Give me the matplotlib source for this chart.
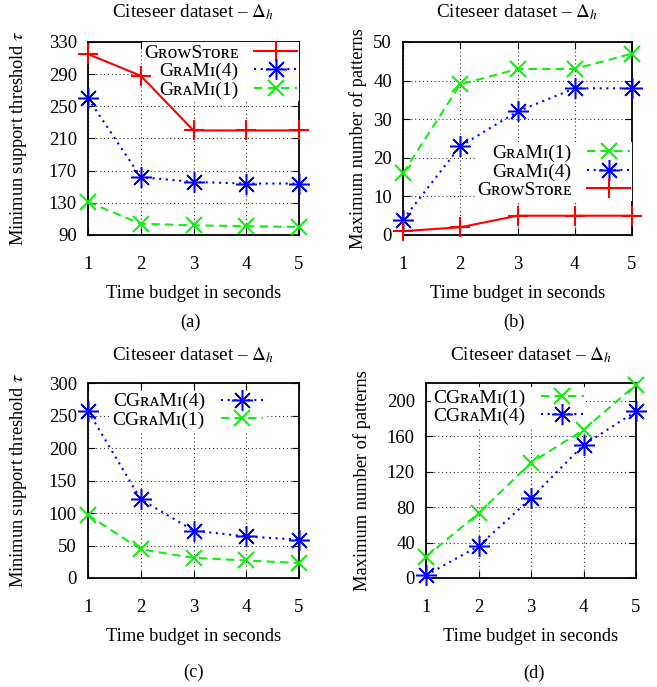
import matplotlib
matplotlib.use('Agg')
import matplotlib.pyplot as plt

TIME = [1, 2, 3, 4, 5]

# (a) minimum support threshold
GROWSTORE_TAU = [315, 288, 220, 220, 220]
GRAMI4_TAU = [260, 162, 156, 154, 154]
GRAMI1_TAU = [131, 104, 102, 101, 100]

# (b) maximum number of patterns
GRAMI1_PAT = [16, 39, 43, 43, 47]
GRAMI4_PAT = [4, 23, 32, 38, 38]
GROWSTORE_PAT = [1, 2, 5, 5, 5]

# (c) minimum support threshold, CGraMi
CGRAMI4_TAU = [257, 121, 73, 64, 59]
CGRAMI1_TAU = [97, 44, 31, 27, 23]

# (d) maximum number of patterns, CGraMi
CGRAMI1_PAT = [24, 73, 130, 167, 218]
CGRAMI4_PAT = [3, 36, 90, 150, 188]

plt.rcParams['font.family'] = ['Liberation Serif', 'DejaVu Serif']
plt.rcParams['mathtext.fontset'] = 'stix'

RED, BLUE, GREEN = '#ff0000', '#0000ff', '#11ee11'
STYLES = {
    'growstore': dict(color=RED, ls='-', marker='+', ms=14, mew=1.5),
    'grami4': dict(color=BLUE, ls=(0, (1, 2.2)), marker=(8, 2, 0), ms=15, mew=1.1),
    'grami1': dict(color=GREEN, ls=(0, (4, 2.5)), marker='x', ms=11, mew=1.5),
}
FS = 13.2
TICK_FS = 13.5
TITLE_FS = 13.8
LEG_FS = 14
TITLE = r'Citeseer dataset – $\Delta_h$'
XLABEL = 'Time budget in seconds'

W, H = 657, 687
fig = plt.figure(figsize=(W / 100, H / 100), dpi=100)


def add_axes(left, right, top, bottom):
    return fig.add_axes([left / W, 1 - bottom / H, (right - left) / W, (bottom - top) / H])


def panel(ax, series, ylim, yticks, ylabel, ylab_x, xlab_y, title_y, leg_anchor):
    for label, vals, key in series:
        st = STYLES[key]
        ax.plot(TIME, vals, color=st['color'], ls=st['ls'], lw=1.5, marker=st['marker'],
                ms=st['ms'], mew=st['mew'], label=label, clip_on=False, zorder=3)
    ax.set_xlim(1, 5)
    ax.set_ylim(*ylim)
    ax.set_xticks(TIME)
    ax.set_yticks(yticks)
    ax.grid(True, color='0.2', ls=(0, (1, 2.5)), lw=0.8)
    ax.tick_params(direction='in', top=True, right=True, length=5, labelsize=TICK_FS)
    ax.tick_params(axis='x', pad=15)
    ax.tick_params(axis='y', pad=8)
    for s in ax.spines.values():
        s.set_linewidth(1.3)
    ax.set_ylabel(ylabel, fontsize=FS)
    ax.yaxis.set_label_coords(ylab_x, 0.5)
    ax.set_xlabel(XLABEL, fontsize=FS)
    ax.xaxis.set_label_coords(0.5, xlab_y)
    ax.text(0.5, title_y, TITLE, transform=ax.transAxes, ha='center', va='center',
            fontsize=TITLE_FS)
    leg = ax.legend(loc='upper right', bbox_to_anchor=leg_anchor, markerfirst=False,
                    fontsize=LEG_FS, handlelength=2.2, handletextpad=0.8, labelspacing=0.05,
                    borderpad=0.1, borderaxespad=0, frameon=True, fancybox=False,
                    edgecolor='none', facecolor='white', framealpha=1)
    # key box hides the grid but stays under the data lines
    leg.set_zorder(2.5)


ax_a = add_axes(88, 299, 42, 235)
panel(ax_a, [('GʀᴏᴡSᴛᴏʀᴇ', GROWSTORE_TAU, 'growstore'),
             ('GʀᴀMɪ(4)', GRAMI4_TAU, 'grami4'),
             ('GʀᴀMɪ(1)', GRAMI1_TAU, 'grami1')],
      (90, 330), [90, 130, 170, 210, 250, 290, 330], r'Minimun support threshold $\tau$',
      -0.28, -0.26, 1.155, (1.0, 1.0))

ax_b = add_axes(403, 632, 42, 235)
panel(ax_b, [('GʀᴀMɪ(1)', GRAMI1_PAT, 'grami1'),
             ('GʀᴀMɪ(4)', GRAMI4_PAT, 'grami4'),
             ('GʀᴏᴡSᴛᴏʀᴇ', GROWSTORE_PAT, 'growstore')],
      (0, 50), [0, 10, 20, 30, 40, 50], 'Maximum number of patterns',
      -0.157, -0.26, 1.155, (1.0, 0.48))

ax_c = add_axes(88, 299, 383, 578)
panel(ax_c, [('CGʀᴀMɪ(4)', CGRAMI4_TAU, 'grami4'),
             ('CGʀᴀMɪ(1)', CGRAMI1_TAU, 'grami1')],
      (0, 300), [0, 50, 100, 150, 200, 250, 300], r'Minimun support threshold $\tau$',
      -0.28, -0.256, 1.144, (0.84, 0.96))

ax_d = add_axes(426, 636, 383, 578)
panel(ax_d, [('CGʀᴀMɪ(1)', CGRAMI1_PAT, 'grami1'),
             ('CGʀᴀMɪ(4)', CGRAMI4_PAT, 'grami4')],
      (0, 220), [0, 40, 80, 120, 160, 200], 'Maximum number of patterns',
      -0.262, -0.256, 1.144, (0.76, 0.98))

for txt, x, y in [('(a)', 190, 322), ('(b)', 514, 322), ('(c)', 193, 672), ('(d)', 534, 673)]:
    fig.text(x / W, 1 - y / H, txt, ha='center', va='center', fontsize=FS)

fig.savefig('out.png', dpi=100)
